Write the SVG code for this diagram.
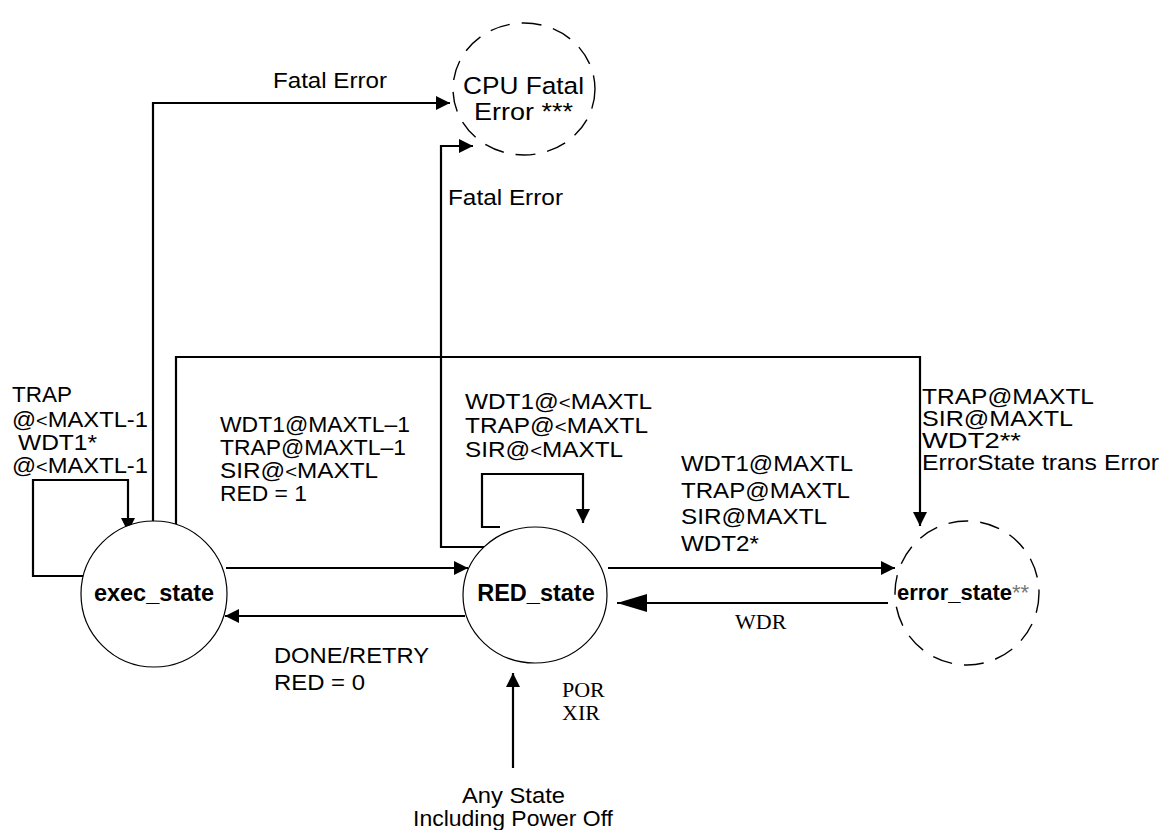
<svg xmlns="http://www.w3.org/2000/svg" width="1162" height="830" viewBox="0 0 1162 830">
<defs>
<marker id="ah" markerUnits="userSpaceOnUse" markerWidth="15" markerHeight="15" refX="14" refY="7" orient="auto">
<path d="M0,0 L14,7 L0,14 z" fill="#000"/>
</marker>
<marker id="ahb" markerUnits="userSpaceOnUse" markerWidth="32" markerHeight="20" refX="30" refY="9" orient="auto">
<path d="M0,0 L30,9 L0,18 z" fill="#000"/>
</marker>
</defs>
<style>
.t{font-family:"Liberation Sans",Arial,sans-serif;font-size:21.5px;fill:#000}
.s{font-family:"Liberation Serif","Times New Roman",serif;font-size:22px;fill:#000}
.b{font-family:"Liberation Sans",Arial,sans-serif;font-weight:bold;font-size:23.5px;fill:#000}
.lt{font-size:18px}
.c{fill:#fff;stroke:#000;stroke-width:1.2}
.d{fill:none;stroke:#000;stroke-width:1.4;stroke-dasharray:20 12}
.e{fill:none;stroke:#000;stroke-width:2.2}
</style>
<rect width="1162" height="830" fill="#fff"/>
<g id="connectors">
<path class="e" d="M153,521 V103 H450" marker-end="url(#ah)"/>
<path class="e" d="M484,547 H441 V146 H473" marker-end="url(#ah)"/>
<path class="e" d="M176,524 V357 H920 V526" marker-end="url(#ah)"/>
<path class="e" d="M83,576 H33 V480 H128 V532" marker-end="url(#ah)"/>
<path class="e" d="M500,527 H482 V474 H583 V523" marker-end="url(#ah)"/>
<path class="e" d="M226,568 H468" marker-end="url(#ah)"/>
<path class="e" d="M465,616 H225" marker-end="url(#ah)"/>
<path class="e" d="M608,568 H895" marker-end="url(#ah)"/>
<path class="e" d="M888,603 H617" marker-end="url(#ahb)"/>
<path class="e" d="M513,768 V673" marker-end="url(#ah)"/>
<text class="t" x="273" y="88" textLength="114" lengthAdjust="spacingAndGlyphs">Fatal Error</text>
<text class="t" x="448" y="205" textLength="115" lengthAdjust="spacingAndGlyphs">Fatal Error</text>
<text class="t" x="12" y="402" textLength="60" lengthAdjust="spacingAndGlyphs">TRAP</text>
<text class="t" x="12" y="427" textLength="136" lengthAdjust="spacingAndGlyphs">@<tspan class="lt">&lt;</tspan>MAXTL-1</text>
<text class="t" x="18" y="450" textLength="79" lengthAdjust="spacingAndGlyphs">WDT1*</text>
<text class="t" x="12" y="473" textLength="136" lengthAdjust="spacingAndGlyphs">@<tspan class="lt">&lt;</tspan>MAXTL-1</text>
<text class="t" x="220" y="432" textLength="190" lengthAdjust="spacingAndGlyphs">WDT1@MAXTL–1</text>
<text class="t" x="220" y="455" textLength="186" lengthAdjust="spacingAndGlyphs">TRAP@MAXTL–1</text>
<text class="t" x="220" y="478" textLength="158" lengthAdjust="spacingAndGlyphs">SIR@<tspan class="lt">&lt;</tspan>MAXTL</text>
<text class="t" x="220" y="501" textLength="87" lengthAdjust="spacingAndGlyphs">RED = 1</text>
<text class="t" x="465" y="409" textLength="187" lengthAdjust="spacingAndGlyphs">WDT1@<tspan class="lt">&lt;</tspan>MAXTL</text>
<text class="t" x="465" y="433" textLength="183" lengthAdjust="spacingAndGlyphs">TRAP@<tspan class="lt">&lt;</tspan>MAXTL</text>
<text class="t" x="465" y="457" textLength="158" lengthAdjust="spacingAndGlyphs">SIR@<tspan class="lt">&lt;</tspan>MAXTL</text>
<text class="t" x="681" y="471" textLength="172" lengthAdjust="spacingAndGlyphs">WDT1@MAXTL</text>
<text class="t" x="681" y="498" textLength="169" lengthAdjust="spacingAndGlyphs">TRAP@MAXTL</text>
<text class="t" x="681" y="524" textLength="146" lengthAdjust="spacingAndGlyphs">SIR@MAXTL</text>
<text class="t" x="681" y="551" textLength="78" lengthAdjust="spacingAndGlyphs">WDT2*</text>
<text class="t" x="922" y="404" textLength="172" lengthAdjust="spacingAndGlyphs">TRAP@MAXTL</text>
<text class="t" x="922" y="426" textLength="151" lengthAdjust="spacingAndGlyphs">SIR@MAXTL</text>
<text class="t" x="922" y="448" textLength="99" lengthAdjust="spacingAndGlyphs">WDT2**</text>
<text class="t" x="922" y="470" textLength="237" lengthAdjust="spacingAndGlyphs">ErrorState trans Error</text>
<text class="s" x="735" y="629">WDR</text>
<text class="t" x="274" y="663" textLength="155" lengthAdjust="spacingAndGlyphs">DONE/RETRY</text>
<text class="t" x="274" y="690" textLength="91" lengthAdjust="spacingAndGlyphs">RED = 0</text>
<text class="s" x="562" y="697">POR</text>
<text class="s" x="562" y="720">XIR</text>
<text class="t" x="462" y="803" textLength="103" lengthAdjust="spacingAndGlyphs">Any State</text>
<text class="t" x="413" y="826" textLength="200" lengthAdjust="spacingAndGlyphs">Including Power Off</text>
</g>
<g id="cpu_fatal">
<ellipse class="d" cx="524" cy="89" rx="71" ry="66"/>
<text class="t" style="font-size:24.5px" x="463" y="94" textLength="121" lengthAdjust="spacingAndGlyphs">CPU Fatal</text>
<text class="t" style="font-size:24.5px" x="474" y="120" textLength="99" lengthAdjust="spacingAndGlyphs">Error ***</text>
</g>
<g id="exec_state">
<circle class="c" cx="154" cy="594" r="73"/>
<text class="b" x="154" y="601" text-anchor="middle">exec_state</text>
</g>
<g id="red_state">
<ellipse class="c" cx="535" cy="595" rx="72" ry="68"/>
<text class="b" x="536" y="601" text-anchor="middle">RED_state</text>
</g>
<g id="error_state">
<circle class="d" cx="967" cy="593" r="72"/>
<text class="b" style="font-size:22px" x="897" y="600">error_state<tspan style="font-weight:normal;fill:#777">**</tspan></text>
</g>
</svg>
